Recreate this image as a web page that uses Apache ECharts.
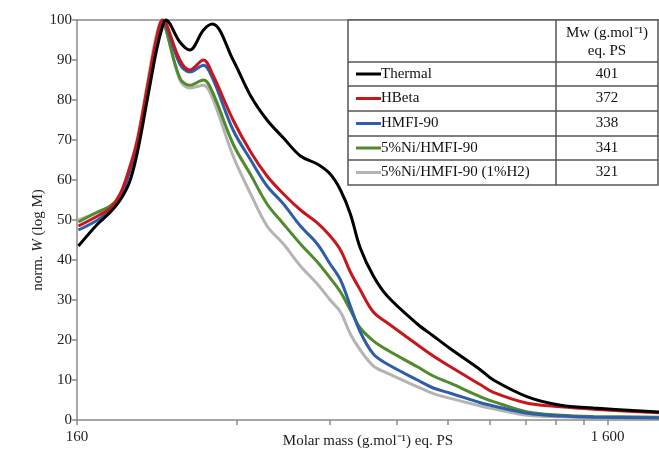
<!DOCTYPE html>
<html>
<head>
<meta charset="utf-8">
<script src="https://cdn.jsdelivr.net/npm/echarts@6/dist/echarts.min.js"></script>
<style>
  html, body { margin: 0; padding: 0; background: #fff; }
  #chart { width: 659px; height: 455px; }
</style>
</head>
<body>
<div id="chart"></div>
<script>
// molar mass grid (g/mol, eq. PS)
const masses = [161, 175, 185, 193, 201, 208, 217, 226, 232, 235, 250, 261, 277, 288, 315, 340, 365, 392, 422, 454, 480, 502, 524, 547, 579, 615, 701, 751, 809, 922, 975, 1130, 1305, 1506, 2000];

const thermal = [43.5, 49, 52, 55, 59.5, 67, 80, 92.5, 98.5, 100, 94.5, 92.5, 97.5, 99, 90, 81, 75, 70.5, 66, 64, 61.5, 57.5, 51.5, 43, 36, 31, 24, 21, 17.8, 12.5, 10, 5.8, 3.7, 3, 2];
const hbeta = [48.5, 51, 53, 56.5, 63, 70, 83, 95.5, 100, 99.5, 90, 87.5, 90, 86.5, 75, 67, 61, 56.5, 52.5, 49.3, 46, 42.5, 37, 32.5, 27, 24.3, 18.8, 16, 13.3, 8.8, 6.9, 4.2, 3.3, 2.7, 1.8];
const hmfi = [47.5, 50, 52.5, 55.5, 62, 69, 82, 95, 99.5, 99, 89, 87, 88.7, 85.5, 72.5, 65, 58.5, 54, 48.5, 44, 39, 35, 28.5, 22, 16.5, 14, 10, 8, 6.7, 4.3, 3.5, 1.7, 1, 0.7, 0.5];
const niHmfi = [49.5, 52, 53.5, 56, 62.5, 69.5, 82.5, 95, 99.5, 98, 85.5, 83.7, 85, 82, 69, 61.3, 54, 49, 44, 39.5, 35.5, 32, 27.5, 23, 19.8, 17.5, 13.3, 11, 9.2, 5.8, 4.6, 2, 1.2, 0.9, 0.7];
const niHmfiH2 = [50, 52, 53.5, 56.5, 63, 70.5, 84, 96.5, 100, 98, 85, 83, 83.7, 80.5, 66, 56.5, 48.5, 44, 38.5, 34, 30, 27, 21.5, 17.5, 13.5, 11.7, 8.3, 6.6, 5.4, 3.5, 2.8, 1.2, 0.8, 0.6, 0.5];

const seriesNames = ["Thermal", "HBeta", "HMFI-90", "5%Ni/HMFI-90", "5%Ni/HMFI-90 (1%H2)"];
const mwValues = ["401", "372", "338", "341", "321"];
const colors = ["#000000", "#c8161d", "#2f5ea8", "#4f8a2b", "#b4b4b4"];

const xLabelValues = [160, 1600];
const xTickValues = [160, 320, 480, 640, 800, 960, 1120, 1280, 1440, 1600];

const serif = "Liberation Serif";
const axisGray = "#8a8a8a";

const chart = echarts.init(document.getElementById("chart"));

const allData = [thermal, hbeta, hmfi, niHmfi, niHmfiH2];
// draw grey first so black ends up on top
const series = allData
  .map((vals, i) => ({
    name: seriesNames[i],
    type: "line",
    smooth: 0.35,
    symbol: "none",
    clip: false,
    z: 10 - i,
    lineStyle: { color: colors[i], width: 3 },
    data: masses.map((m, k) => [m, vals[k]]),
  }))
  .reverse();

// legend table (top right)
const tLeft = 348, tRight = 658, tCol = 556;
const rowLines = [20, 62, 86, 111, 136, 160, 185];
const tableEls = [
  { type: "rect", shape: { x: tLeft, y: 20, width: tRight - tLeft, height: 165 },
    style: { fill: "#fff", stroke: "#555", lineWidth: 1.5 }, z: 50 },
  { type: "line", shape: { x1: tCol, y1: 20, x2: tCol, y2: 185 },
    style: { stroke: "#555", lineWidth: 1.5 }, z: 51 },
  { type: "text", x: (tCol + tRight) / 2, y: 33,
    style: { text: "Mw (g.mol⁻¹)", font: "15px " + serif, fill: "#111", align: "center", verticalAlign: "middle" }, z: 52 },
  { type: "text", x: (tCol + tRight) / 2, y: 51,
    style: { text: "eq. PS", font: "15px " + serif, fill: "#111", align: "center", verticalAlign: "middle" }, z: 52 },
];
for (let r = 1; r < rowLines.length - 1; r++) {
  tableEls.push({ type: "line", shape: { x1: tLeft, y1: rowLines[r], x2: tRight, y2: rowLines[r] },
    style: { stroke: "#555", lineWidth: 1.5 }, z: 51 });
}
seriesNames.forEach((name, i) => {
  const cy = (rowLines[i + 1] + rowLines[i + 2]) / 2;
  tableEls.push({ type: "line", shape: { x1: 356, y1: cy, x2: 381, y2: cy },
    style: { stroke: colors[i], lineWidth: 3 }, z: 52 });
  tableEls.push({ type: "text", x: 381, y: cy,
    style: { text: name, font: "15px " + serif, fill: "#111", align: "left", verticalAlign: "middle" }, z: 52 });
  tableEls.push({ type: "text", x: (tCol + tRight) / 2, y: cy,
    style: { text: mwValues[i], font: "15px " + serif, fill: "#111", align: "center", verticalAlign: "middle" }, z: 52 });
});

chart.setOption({
  animation: false,
  backgroundColor: "#fff",
  grid: { left: 77, right: 0, top: 20, bottom: 35, outerBoundsMode: "none" },
  xAxis: [
    {
      type: "log",
      logBase: 10,
      min: 160,
      max: 2000,
      name: "Molar mass (g.mol⁻¹) eq. PS",
      nameLocation: "middle",
      nameGap: 14,
      nameMoveOverlap: false,
      nameTextStyle: { fontFamily: serif, fontSize: 15, color: "#222" },
      axisLine: { lineStyle: { color: axisGray, width: 1.5 } },
      axisTick: { customValues: xTickValues, length: 5, lineStyle: { color: axisGray, width: 1.5 } },
      minorTick: { show: false },
      axisLabel: {
        customValues: xLabelValues,
        fontFamily: serif,
        fontSize: 15,
        color: "#222",
        margin: 10,
        formatter: (v) => (v >= 1000 ? String(v).replace(/(\d)(\d{3})$/, "$1 $2") : String(v)),
      },
      splitLine: { show: false },
    },
    {
      type: "value",
      position: "top",
      min: 0,
      max: 1,
      axisLine: { show: true, lineStyle: { color: axisGray, width: 1.5 } },
      axisTick: { show: false },
      axisLabel: { show: false },
      splitLine: { show: false },
    },
  ],
  yAxis: {
    type: "value",
    min: 0,
    max: 100,
    interval: 10,
    name: "norm. {i|W} (log M)",
    nameLocation: "middle",
    nameGap: 31,
    nameMoveOverlap: false,
    nameTextStyle: {
      fontFamily: serif,
      fontSize: 15,
      color: "#222",
      padding: [0, 40, 0, 0],
      rich: { i: { fontFamily: serif, fontSize: 15, fontStyle: "italic", color: "#222" } },
    },
    axisLine: { show: true, lineStyle: { color: axisGray, width: 1.5 } },
    axisTick: { show: true, length: 5, lineStyle: { color: axisGray, width: 1.5 } },
    axisLabel: { fontFamily: serif, fontSize: 15, color: "#222", margin: 5 },
    splitLine: { show: false },
  },
  series: series,
  graphic: tableEls,
});

window.addEventListener("resize", () => {
  chart.resize();
});
</script>
</body>
</html>
